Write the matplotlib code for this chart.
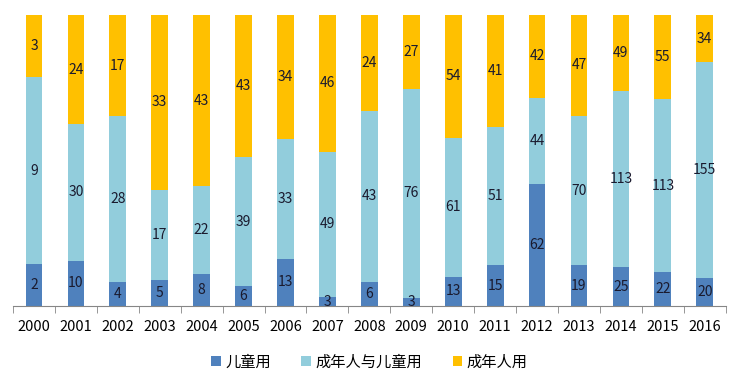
import matplotlib.pyplot as plt
import numpy as np

plt.rcParams['font.family'] = ['Noto Sans CJK SC', 'DejaVu Sans']

years = [str(y) for y in range(2000, 2017)]
child = [2, 10, 4, 5, 8, 6, 13, 3, 6, 3, 13, 15, 62, 19, 25, 22, 20]
both = [9, 30, 28, 17, 22, 39, 33, 49, 43, 76, 61, 51, 44, 70, 113, 113, 155]
adult = [3, 24, 17, 33, 43, 43, 34, 46, 24, 27, 54, 41, 42, 47, 49, 55, 34]

series = [('儿童用', child, '#4F81BD'),
          ('成年人与儿童用', both, '#92CDDC'),
          ('成年人用', adult, '#FFC000')]

total = np.array(child) + np.array(both) + np.array(adult)
x = np.arange(len(years))

fig = plt.figure(figsize=(7.39, 3.76), dpi=100)
ax = fig.add_axes([0.0176, 0.186, 0.9644, 0.774])

bottom = np.zeros(len(years))
for name, vals, color in series:
    frac = np.array(vals) / total
    ax.bar(x, frac, 0.4, bottom=bottom, color=color, label=name)
    for xi, b, f, v in zip(x, bottom, frac, vals):
        ax.text(xi, b + f / 2, str(v), ha='center', va='center',
                fontsize=10, color='#1a1a2e')
    bottom += frac

ax.set_xlim(-0.5, len(years) - 0.5)
ax.set_ylim(0, 1)
ax.set_yticks([])
for s in ['left', 'right', 'top']:
    ax.spines[s].set_visible(False)
ax.spines['bottom'].set_color('#868686')

ax.set_xticks(x)
ax.set_xticklabels(years, fontsize=10.5)
ax.tick_params(axis='x', length=0, pad=10)
ax.set_xticks(np.arange(-0.5, len(years)), minor=True)
ax.tick_params(axis='x', which='minor', length=5, color='#868686')

ax.legend(loc='upper center', bbox_to_anchor=(0.5, -0.115), ncol=3,
          frameon=False, fontsize=11, handlelength=0.6, handleheight=0.6,
          handletextpad=0.3, columnspacing=2.0)

fig.savefig('out.png', dpi=100)
